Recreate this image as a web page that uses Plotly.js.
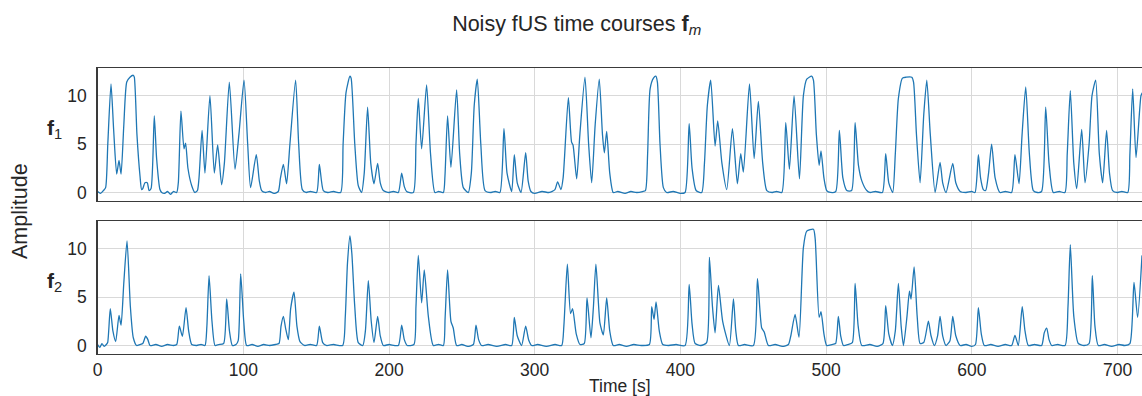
<!DOCTYPE html>
<html>
<head>
<meta charset="utf-8">
<script src="https://cdn.plot.ly/plotly-3.0.1.min.js"></script>
<style>html,body{margin:0;padding:0;background:#fff;}#chart{width:1142px;height:396px;}</style>
</head>
<body>
<div id="chart"></div>
<script>
// Time course f1 (time in s, amplitude)
var t1 = [0,2,4,5.5,7,9.2,11,13.1,14.7,16.1,18,20,22.2,24.5,25.2,27,29.1,30.2,31,32.5,34.1,35.3,36.7,38.9,40.5,42.8,44,46,48,50,52,54.3,55.4,57.2,59.3,60.4,62,64.6,66.8,68.5,69.6,71.7,73.7,77.1,80.1,82.4,85.1,87,90.4,94.3,97,100.5,103,105,108.9,111,112.6,115,118,121,124,125.5,127.5,129.7,132,135.9,138,140.5,143,146,150.3,152.2,154.9,158,162,166.8,168.5,170.5,173.2,174,176.5,178.9,181.2,183,185.3,187.5,189.7,192.2,194,196.1,200,203,206.4,208.7,210.5,212.1,216.7,218.5,220.1,222.4,225.8,228.5,231.5,234,237.3,238.4,240.2,242.5,246.4,248.5,251,254.4,256.5,258.5,260.6,263,265.9,270,273,276.1,278.9,281,284.2,286,288,290.6,293.8,295.5,297.4,300,305,310,313.9,315.7,318,319.5,323.1,325.3,326.3,328.8,331,334.5,337,339.1,341.5,344.3,346.5,347.8,349.4,351.5,353.9,357,362,366,370,374,376,377.5,379.2,381.5,383.1,384.2,386,388.3,390.5,395,400,403.2,406,408,410.8,414.6,416.5,418.5,420.8,423.8,425.6,428.5,431.8,435.7,439.1,441.4,443.2,447.4,450.6,453.5,456.5,459.3,463,466,469.6,472.3,474.8,478,481.7,484.4,486.7,490.1,491.3,493.3,495.2,496.5,498.5,500.4,503,506.6,509.1,511.5,514.2,517.5,519.9,522.2,524.5,527.9,530,534,538.6,540.9,543,545.7,547.5,549.6,552.4,555,558.8,560,562,564.5,567,569.1,571.5,574.8,578.2,580,582.3,586.9,589,592,596,600,602.2,604.5,606,607.9,609.5,611.5,613.6,616,619.3,623,627.3,629.6,632.4,634.5,637,639.5,642.2,645,647.9,650.7,653,655.9,660,663.9,665.5,667.6,670,672,675.4,677.7,680.5,682.5,685,687.5,689.8,692.5,694.5,696.6,700,703,707,708.5,710.4,712.7,716.1,717];
var f1 = [0.1,-0.1,0.2,0.5,5,11.2,6.5,1.9,3.3,1.9,7,11.4,11.9,12.1,11.9,6,1.7,0.3,0.4,1.0,1.0,0.2,0.4,7.9,3.5,0.3,0,-0.1,0.1,-0.2,0.1,0,1.0,8.4,4.5,5.1,2.5,0.7,0,0.2,1.5,6.4,2.0,10.0,2.0,4.9,0.8,3,11.4,2.4,6,11.6,5,0.5,3.9,1.2,0.2,0,0.1,-0.1,0.1,1.5,2.9,0.9,5,11.6,5,0.3,0,0.1,0,2.9,0.2,0,0.1,0,5,10.3,12.0,11.8,5,0.7,0,2,8.8,3,0.9,3.0,1.0,0.2,0,0.1,0,2.0,0.6,0.1,0,5,9.7,4.5,11.1,4,0,0.1,0,1.7,7.9,2.6,10.6,4,0.5,0,2,9,11.7,5,0.2,0,0.1,0,6.6,2,0.1,3.9,1,0,4.1,1.2,0.1,-0.1,0.1,0,0.3,1.1,0.3,1.5,9.8,5.2,4.9,1.4,6,11.9,5,1.0,7,11.7,6,4.1,6.3,2,0,0.1,-0.1,0.1,0,0.1,0.2,4,10.7,11.8,12.0,11.4,5,0.5,0,0.1,-0.1,0,7.1,2.5,0.2,0,3,9,11.6,4.8,7.4,3,0.3,6.6,0.9,4.0,2.1,11.2,3.5,9.4,3,0.2,0,0.1,0,7.2,2.4,10,1.4,10,11.7,12.0,11.6,6,2.8,4.3,1.5,0.2,0,0.1,6.4,1.5,0.2,0.2,7.2,2.8,1.2,0.2,0,0.1,0,4.0,1,0,4,9.7,11.8,11.9,11.9,11.4,6,1.0,8,11.6,6,0,3.1,1,0,3.0,1,0.1,0,0.1,0,3.9,1.5,0.3,0.2,2,5.0,1.5,0,0.1,0,3.9,0.9,6,10.9,4,0.2,0,0.1,8.8,3,0,0.1,0,4,10.5,3,0.4,6.5,1.0,5,10,11.6,4,1.0,6.4,2,0.2,0,0.1,0,4,10.7,3.6,10.0,10.3];

// Time course f2
var t2 = [0,1.5,3,4.5,6,6.9,8.7,10.5,12.4,14.7,16.1,18,20.2,22.5,24.5,26.8,29,31,33,34.5,36,40,44,48,52,54.3,56.1,58.2,60.7,62.5,64.6,68,71,73.7,75,76.5,78.5,80.6,83,86.5,88.6,90.5,92.5,95,96.5,98.2,100.3,102.3,106,110,114,118,122,124.5,125.9,127.5,129,130.9,132.5,134.8,136.8,138.9,142,146,150.3,152.2,154.5,157,162,168.2,170,171.5,173.2,174.5,176.5,178.9,182,183.8,185.8,187.8,189.7,192.2,194,196.1,200,206.4,208.7,210.5,212.5,217.1,218.5,220.1,222.4,224.2,227,230.4,234,237.3,238.5,240.2,242.5,244.1,246.4,250,254,257.9,259.7,261.5,263.5,268,274,280,284.2,286,288,291,293.8,295.8,297.9,302,308,314,318.5,320,322.4,324.6,326,328.5,331.1,334,335.9,338.6,340.3,342,344.8,347.1,349.4,351.5,353.9,358,363,368,373,378.7,380.3,381.9,383.3,385.5,387.9,392,397,403.2,406,408,410.1,414,418,419.9,422,423.8,426.1,429,433.6,436.4,438,439.8,444,450.1,452.9,455.8,457.5,460.4,465,470,474.1,475.7,478.7,481.4,484.4,486.7,491.3,492.5,495.2,496.5,498.5,500.4,504,506.5,508.4,510,511.9,515,518,519.9,522,524.5,530,535,539,540.9,543,545.5,547.5,549.6,551.5,553.1,555.5,557.2,558.3,560.4,562.5,564.5,567,570.2,572,574.3,576.5,578.2,580,582.3,585,586.9,589,592,596,600,602.5,604.5,606.5,608.6,613,618,623,627.3,629.6,631.9,634.6,636.5,638.8,643,647.9,649.7,651.4,653,654.8,659,664,666,667.6,670,673.1,677,680.5,682.7,684.5,686.8,691,696,701,705,708.5,711.3,713.8,716.8];
var f2 = [0.1,-0.2,0.2,-0.1,0.1,0.3,3.8,1.5,0.4,3.1,2.1,6.5,10.8,4,0.8,0,0.1,0.2,0.95,0.6,0,0.1,-0.1,0.1,0,0.1,2.0,0.95,3.9,1.5,0.1,0,0.1,0,2,7.2,2.5,0,0.1,0.2,4.8,1.5,0,0.1,0.5,7.4,2.5,0,0.1,-0.1,0.1,0,0.1,0.2,2.0,3.0,1.8,0.6,3.8,5.5,2,0.4,0,0.1,0,2.0,0.3,0,0.1,0,3,8.5,11.3,9.5,4,0.3,0,1.5,6.7,2.5,0.3,3.0,1.0,0,0.1,0,2.1,0.6,0,0.1,4,9.3,4.4,7.8,3,0,0.1,0,2.8,7.8,2.5,1.8,0,0.1,-0.1,0.1,2.1,0.6,0,0.1,-0.1,0.1,0,2.9,1,0,2.0,0.6,0,0.1,-0.1,0.1,0,2,8.4,3.3,3.8,1.2,0.1,0.2,4.9,0.8,4,8.4,2.3,1.1,4.9,1.5,0,0.1,-0.1,0.1,0,0.1,4.0,2.7,4.5,1.5,0.1,0,0.1,0,6.3,2.2,0.2,0,0.3,9.1,4,1.3,6.2,2.5,0,4.8,1.5,0,0.1,0,6.9,1.8,1.4,0,0.1,-0.1,0.1,0.95,3.2,0.85,10.1,11.8,12.0,11,2.9,3.5,1.2,0,0.1,0.2,3.0,1,0,0.1,0.3,6.4,2,0,0.1,-0.1,0.2,4.1,1.2,0,1.5,6.4,2,0,3,5.6,4.8,8.1,3,0.2,0.3,2.5,1,0,1,3.0,1.0,0,0.5,3.0,1,0,0.1,-0.1,0.1,3.9,1.2,0,0.1,-0.1,0.1,0,1.05,0,4.0,1.5,0,0.1,0,1.3,1.8,0.6,0,0.1,0,4,10.4,3,0.2,0,0.2,7.2,2,0,0.1,-0.1,0.1,0,0.2,6.5,2.9,9.3];

var xTicks = [0,100,200,300,400,500,600,700];
var yTicks = [0,5,10];

var lineColor = '#1f77b4';
var fontFam = 'Liberation Sans, Arial, sans-serif';
var textCol = '#262626';

var traces = [
  {x: t1, y: f1, type: 'scatter', mode: 'lines', xaxis: 'x', yaxis: 'y',
   line: {color: lineColor, width: 1.3, shape: 'spline', smoothing: 0.6}, hoverinfo: 'x+y'},
  {x: t2, y: f2, type: 'scatter', mode: 'lines', xaxis: 'x2', yaxis: 'y2',
   line: {color: lineColor, width: 1.3, shape: 'spline', smoothing: 0.6}, hoverinfo: 'x+y'}
];

var W = 1142, H = 396;
var xdom = [97.6 / W, 1];
var topDom = [(H - 201) / H, (H - 68) / H];
var botDom = [(H - 354) / H, (H - 221) / H];
var yr = [-0.88, 12.85];
var xr = [0, 716.8];

function xax(extra) {
  return Object.assign({
    domain: xdom, range: xr, tickvals: xTicks, showgrid: true, gridcolor: '#d9d9d9', gridwidth: 1,
    zeroline: false, showline: true, linecolor: '#3a3a3a', linewidth: 1.3, mirror: true,
    ticks: '', tickfont: {family: fontFam, size: 17.5, color: textCol}
  }, extra);
}
function yax(extra) {
  return Object.assign({
    range: yr, tickvals: yTicks, showgrid: true, gridcolor: '#d9d9d9', gridwidth: 1,
    zeroline: false, showline: true, linecolor: '#3a3a3a', linewidth: 1.3, mirror: false,
    ticks: '', ticklabelstandoff: 6, tickfont: {family: fontFam, size: 17.5, color: textCol}
  }, extra);
}

var layout = {
  width: W, height: H,
  margin: {l: 0, r: 0, t: 0, b: 0},
  paper_bgcolor: '#ffffff', plot_bgcolor: '#ffffff',
  showlegend: false,
  title: {text: 'Noisy fUS time courses <b>f</b><sub><i>m</i></sub>', x: 0.505, xanchor: 'center',
          y: 1 - 23 / H, yanchor: 'middle', yref: 'container',
          font: {family: fontFam, size: 21.5, color: textCol}},
  xaxis: xax({anchor: 'y', showticklabels: false, matches: 'x2'}),
  yaxis: yax({domain: topDom, anchor: 'x'}),
  xaxis2: xax({anchor: 'y2', showticklabels: true,
               title: {text: 'Time [s]', standoff: 1, font: {family: fontFam, size: 17.5, color: textCol}}}),
  yaxis2: yax({domain: botDom, anchor: 'x2'}),
  annotations: [
    {text: 'Amplitude', xref: 'paper', yref: 'paper', x: 20 / W, y: (H - 211) / H,
     textangle: -90, showarrow: false, xanchor: 'center', yanchor: 'middle',
     font: {family: fontFam, size: 21.5, color: textCol}},
    {text: '<b>f</b><sub>1</sub>', xref: 'paper', yref: 'paper', x: 55 / W, y: (H - 129) / H,
     showarrow: false, xanchor: 'center', yanchor: 'middle',
     font: {family: fontFam, size: 21, color: textCol}},
    {text: '<b>f</b><sub>2</sub>', xref: 'paper', yref: 'paper', x: 55 / W, y: (H - 282) / H,
     showarrow: false, xanchor: 'center', yanchor: 'middle',
     font: {family: fontFam, size: 21, color: textCol}}
  ]
};

Plotly.newPlot('chart', traces, layout, {staticPlot: true, displayModeBar: false});
</script>
</body>
</html>
